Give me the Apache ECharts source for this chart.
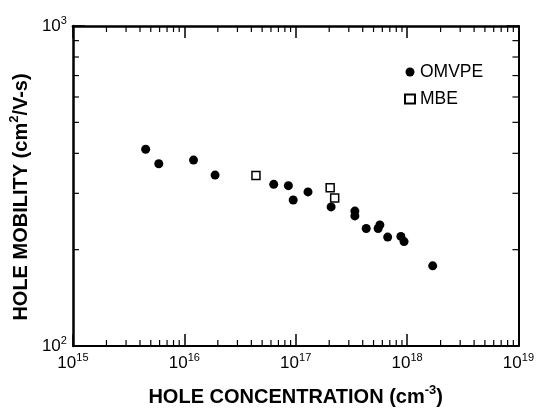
<!DOCTYPE html>
<html>
<head>
<meta charset="utf-8">
<script src="https://cdn.jsdelivr.net/npm/echarts@6/dist/echarts.min.js"></script>
<style>
  html, body { margin: 0; padding: 0; background: #fff; }
  #chart { width: 537px; height: 412px; }
</style>
</head>
<body>
<div id="chart"></div>
<script>
// hole concentration (cm^-3) vs hole mobility (cm2/V-s)
var omvpeConc = [4.5e15, 5.9e15, 1.21e16, 1.89e16, 6.35e16, 8.6e16, 9.5e16, 1.29e17, 2.08e17,
                 3.4e17, 3.4e17, 4.3e17, 5.5e17, 5.7e17, 6.7e17, 8.8e17, 9.4e17, 1.7e18];
var omvpeMob  = [412, 371, 381, 342, 320, 317, 286, 303, 272,
                 264, 255, 233, 233, 239, 219, 220, 212, 178];
var mbeConc = [4.4e16, 2.04e17, 2.24e17];
var mbeMob  = [341, 312, 290];

// axis ranges and minor tick multipliers
var xDecades = [1e15, 1e16, 1e17, 1e18];
var yDecades = [100];
var minorSteps = [2, 3, 4, 5, 6, 7, 8, 9];

var xMin = 1e15, xMax = 1e19, yMin = 100, yMax = 1000;

var xMinor = [];
xDecades.forEach(function (d) { minorSteps.forEach(function (m) { xMinor.push([d * m, yMin]); }); });
var yMinor = [];
yDecades.forEach(function (d) { minorSteps.forEach(function (m) { yMinor.push([xMin, d * m]); }); });

var font = '"Liberation Sans", Arial, Helvetica, sans-serif';

function powLabel(v) {
  var e = Math.round(Math.log(v) / Math.LN10);
  return '{b|10}{s|' + e + '}';
}
var powRich = {
  b: { fontSize: 17, lineHeight: 22, color: '#000', fontFamily: font },
  s: { fontSize: 11, lineHeight: 13, verticalAlign: 'top', color: '#000', fontFamily: font }
};

var titleRich = {
  s: { fontSize: 20, fontWeight: 'bold', lineHeight: 26, color: '#000', fontFamily: font },
  u: { fontSize: 13, fontWeight: 'bold', lineHeight: 14, verticalAlign: 'top', color: '#000', fontFamily: font }
};

var MINOR = 6;

function minorTickSeries(data, isX) {
  return {
    type: 'custom',
    silent: true,
    data: data,
    z: 5,
    renderItem: function (params, api) {
      var v = isX ? api.value(0) : api.value(1);
      var st = { stroke: '#000', lineWidth: 1.2 };
      var a, b;
      if (isX) {
        a = api.coord([v, yMin]);
        b = api.coord([v, yMax]);
        return { type: 'group', children: [
          { type: 'line', shape: { x1: a[0], y1: a[1], x2: a[0], y2: a[1] - MINOR }, style: st },
          { type: 'line', shape: { x1: b[0], y1: b[1], x2: b[0], y2: b[1] + MINOR }, style: st }
        ]};
      }
      a = api.coord([xMin, v]);
      b = api.coord([xMax, v]);
      return { type: 'group', children: [
        { type: 'line', shape: { x1: a[0], y1: a[1], x2: a[0] + MINOR, y2: a[1] }, style: st },
        { type: 'line', shape: { x1: b[0], y1: b[1], x2: b[0] - MINOR, y2: b[1] }, style: st }
      ]};
    }
  };
}

var majorTick = { inside: true, length: 12, lineStyle: { width: 1.5, color: '#000' } };

var chart = echarts.init(document.getElementById('chart'));
chart.setOption({
  animation: false,
  backgroundColor: '#fff',
  textStyle: { fontFamily: font },
  grid: { left: 68, right: 6, top: 26, bottom: 62 },
  legend: {
    data: ['OMVPE', 'MBE'],
    orient: 'vertical',
    left: 399,
    top: 58,
    itemWidth: 10,
    itemHeight: 9,
    itemGap: 9,
    textStyle: { fontSize: 17.5, color: '#000', fontFamily: font }
  },
  xAxis: [{
    type: 'log', logBase: 10, min: xMin, max: xMax,
    name: '{s|HOLE CONCENTRATION (cm}{u|-3}{s|)}',
    nameLocation: 'middle', nameGap: 38,
    nameTextStyle: { fontSize: 20, fontWeight: 'bold', color: '#000', fontFamily: font, rich: titleRich },
    axisLine: { lineStyle: { color: '#000', width: 2 } },
    axisTick: majorTick,
    axisLabel: { formatter: powLabel, rich: powRich, margin: 6 },
    splitLine: { show: false }
  }, {
    type: 'log', logBase: 10, min: xMin, max: xMax, position: 'top',
    axisLine: { lineStyle: { color: '#000', width: 2.5 } },
    axisTick: majorTick,
    axisLabel: { show: false },
    splitLine: { show: false }
  }],
  yAxis: [{
    type: 'log', logBase: 10, min: yMin, max: yMax,
    name: '{s|HOLE MOBILITY (cm}{u|2}{s|/V-s)}',
    nameLocation: 'middle', nameGap: 33,
    nameTextStyle: {
      fontSize: 20, fontWeight: 'bold', color: '#000', fontFamily: font, rich: titleRich,
      padding: [0, 22, 0, 0]
    },
    axisLine: { lineStyle: { color: '#000', width: 2.5 } },
    axisTick: majorTick,
    axisLabel: { formatter: powLabel, rich: powRich, margin: 6 },
    splitLine: { show: false }
  }, {
    type: 'log', logBase: 10, min: yMin, max: yMax, position: 'right',
    axisLine: { lineStyle: { color: '#000', width: 2 } },
    axisTick: majorTick,
    axisLabel: { show: false },
    splitLine: { show: false }
  }],
  series: [{
    name: 'OMVPE',
    type: 'scatter',
    symbol: 'circle',
    symbolSize: 9,
    itemStyle: { color: '#000', opacity: 1 },
    data: omvpeConc.map(function (c, i) { return [c, omvpeMob[i]]; }),
    z: 3
  }, {
    name: 'MBE',
    type: 'scatter',
    symbol: 'rect',
    symbolSize: 8,
    itemStyle: { color: '#fff', borderColor: '#000', borderWidth: 1.5, opacity: 1 },
    data: mbeConc.map(function (c, i) { return [c, mbeMob[i]]; }),
    z: 4
  },
  minorTickSeries(xMinor, true),
  minorTickSeries(yMinor, false)]
});
</script>
</body>
</html>
